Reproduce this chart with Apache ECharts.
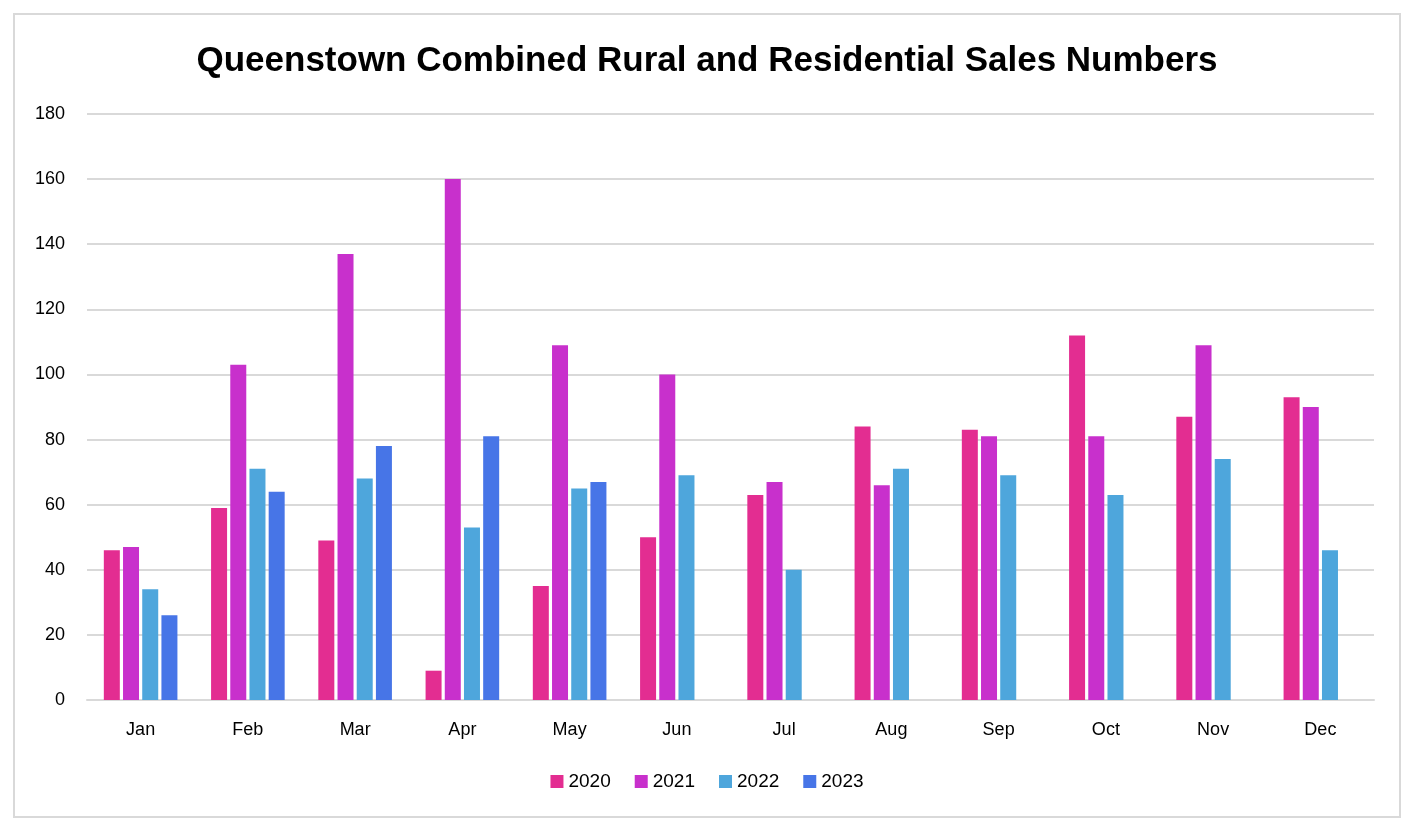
<!DOCTYPE html>
<html><head><meta charset="utf-8">
<script src="https://cdn.jsdelivr.net/npm/echarts@6/dist/echarts.min.js"></script>
<style>html,body{margin:0;padding:0;background:#fff}#c{width:1414px;height:829px}</style>
</head><body><div id="c"></div>
<script>
const categories = ['Jan','Feb','Mar','Apr','May','Jun','Jul','Aug','Sep','Oct','Nov','Dec'];
const yTicks = [0,20,40,60,80,100,120,140,160,180];
const s2020 = [46,59,49,9,35,50,63,84,83,112,87,93];
const s2021 = [47,103,137,160,109,100,67,66,81,81,109,90];
const s2022 = [34,71,68,53,65,69,40,71,69,63,74,46];
const s2023 = [26,64,78,81,67,null,null,null,null,null,null,null];
const seriesNames = ['2020','2021','2022','2023'];
const colors = ['#E32D91','#C830CC','#4EA6DC','#4775E7'];
const font = 'Liberation Sans, Noto Sans, sans-serif';
const chart = echarts.init(document.getElementById('c'));
const data = [s2020,s2021,s2022,s2023];
chart.setOption({
  animation:false,
  backgroundColor:'#fff',
  graphic:[{type:'rect',shape:{x:14,y:14,width:1386,height:803},style:{fill:'none',stroke:'#d9d9d9',lineWidth:2}}],
  title:{text:'Queenstown Combined Rural and Residential Sales Numbers',left:'center',top:39,
    textStyle:{fontFamily:font,fontSize:35,fontWeight:'bold',color:'#000'}},
  legend:{bottom:33,left:'center',itemWidth:13,itemHeight:13,itemGap:24,icon:'rect',
    textStyle:{fontFamily:font,fontSize:19,color:'#000'},data:seriesNames},
  grid:{left:87,right:40,top:114,bottom:129,containLabel:false},
  xAxis:{type:'category',data:categories,
    axisLine:{lineStyle:{color:'#d9d9d9',width:2}},axisTick:{show:false},
    axisLabel:{fontFamily:font,fontSize:18,color:'#000',margin:21}},
  yAxis:{type:'value',min:0,max:180,interval:20,
    axisLine:{show:false},axisTick:{show:false},
    splitLine:{lineStyle:{color:'#d9d9d9',width:2}},
    axisLabel:{fontFamily:font,fontSize:18,color:'#000',margin:22}},
  series:seriesNames.map((n,i)=>({name:n,type:'bar',data:data[i],barWidth:16,barGap:'20%',
    itemStyle:{color:colors[i]}}))
});
</script></body></html>
